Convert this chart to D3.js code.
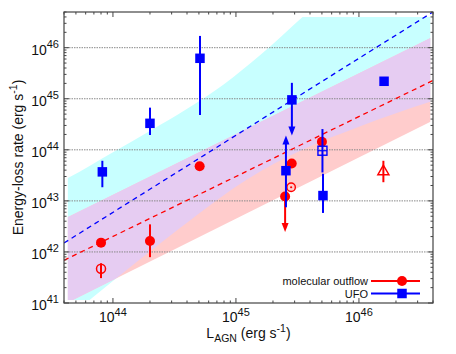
<!DOCTYPE html>
<html><head><meta charset="utf-8">
<script src="https://cdn.jsdelivr.net/npm/d3@7"></script>
<style>
body{margin:0;background:#fff}
svg{display:block}
text{font-family:"Liberation Sans",Arial,Helvetica,sans-serif;fill:#111}
</style>
</head><body>
<svg id="chart" width="456" height="354"></svg>
<script>
// ---------------- data ----------------
// UFO (filled blue squares)
const ufoL      = [8.2e43, 2.0e44, 5.1e44, 2.85e45, 2.55e45, 5.1e45, 1.6e46];
const ufoE      = [3.7e43, 3.3e44, 6.2e45, 9.5e44, 3.9e43, 1.27e43, 2.2e45];
const ufoErrLo  = [1.85e43, 1.95e44, 4.8e44, 1.9e44, 7.5e42, 5.8e42, null];
const ufoErrHi  = [6.1e43, 6.7e44, 1.7e46, 2.05e45, 1.9e44, 3.4e43, null];
const ufoArrow  = ["", "", "", "down", "up", "", ""];
// UFO (open blue square)
const ufoOpenL = [5.05e45];
const ufoOpenE = [9.6e43];
const ufoOpenLo = [3.6e43];
const ufoOpenHi = [2.55e44];
// molecular outflow (filled red circles)
const molL     = [8.0e43, 2.0e44, 5.07e44, 2.84e45, 2.51e45, 5.0e45];
const molE     = [1.52e42, 1.64e42, 4.75e43, 5.4e43, 1.22e43, 1.44e44];
const molErrLo = [null, 7.9e41, null, null, 2.45e42, null];
const molErrHi = [null, 3.47e42, null, null, null, null];
const molArrow = ["", "", "", "", "down", ""];
// molecular outflow (open red circle)
const molOpenL = [8.0e43];
const molOpenE = [4.7e41];
const molOpenLo = [3.07e41];
const molOpenHi = [6.0e41];
// molecular outflow (dotted circle)
const molDotL = [2.81e45];
const molDotE = [1.85e43];
// molecular outflow (open triangle)
const molTriL = [1.58e46];
const molTriE = [3.9e43];
const molTriLo = [2.32e43];
const molTriHi = [6.1e43];

// fitted relations (dashed lines), log10 values
const fitLogL     = [43.602, 46.602];
const ufoFitLogE  = [42.175, 46.70];
const molFitLogE  = [41.836, 45.358];

// shaded bands, log10 values
const cyanUpLogL  = [43.50, 43.634, 44.0, 44.3, 44.6, 44.9, 45.2, 45.55, 45.8, 46.2, 46.8];
const cyanUpLogE  = [43.30, 43.45, 43.95, 44.37, 44.80, 45.28, 45.86, 46.62, 47.15, 47.9, 49.0];
const cyanLoLogL  = [43.50, 43.81, 44.2, 44.545, 45.11, 45.54, 46.0, 46.58, 46.8];
const cyanLoLogE  = [40.45, 41.06, 41.82, 42.47, 43.45, 44.0, 44.45, 44.94, 45.1];
const pinkUpLogL  = [43.50, 46.80];
const pinkUpLogE  = [42.525, 46.45];
const pinkLoLogL  = [43.50, 46.80];
const pinkLoLogE  = [40.85, 44.81];
const bandClipL = [4.3e43, 3.8e46];
const bandClipE = [1.15e41, 4.0e46];

// axes
const xDomain = [4e43, 4e46];
const yDomain = [1e41, 5e46];
const xMajor = [44, 45, 46];
const yMajor = [41, 42, 43, 44, 45, 46];
const gridY  = [42, 43, 44, 45, 46];

// ---------------- drawing ----------------
const svg = d3.select("#chart");
const P = {l:64, r:433, t:12, b:303};
const x = d3.scaleLog().domain(xDomain).range([P.l, P.r]);
const y = d3.scaleLog().domain(yDomain).range([P.b, P.t]);
const p10 = v => Math.pow(10, v);
const zip = (a, b) => a.map((v, i) => [v, b[i]]);

const defs = svg.append("defs");
defs.append("clipPath").attr("id", "plotClip").append("rect")
  .attr("x", P.l).attr("y", P.t).attr("width", P.r - P.l).attr("height", P.b - P.t);
defs.append("clipPath").attr("id", "bandClip").append("rect")
  .attr("x", x(bandClipL[0])).attr("y", y(bandClipE[1]))
  .attr("width", x(bandClipL[1]) - x(bandClipL[0]))
  .attr("height", y(bandClipE[0]) - y(bandClipE[1]));

const edge = d3.line().x(d => x(p10(d[0]))).y(d => y(p10(d[1]))).curve(d3.curveMonotoneX);
function bandPath(upL, upE, loL, loE) {
  const up = edge(zip(upL, upE));
  const lo = edge(zip(loL, loE).reverse());
  return up + lo.replace(/^M/, "L") + "Z";
}
const cyanD = bandPath(cyanUpLogL, cyanUpLogE, cyanLoLogL, cyanLoLogE);
const pinkD = bandPath(pinkUpLogL, pinkUpLogE, pinkLoLogL, pinkLoLogE);
defs.append("clipPath").attr("id", "cyanClip").append("path").attr("d", cyanD);

const bands = svg.append("g").attr("clip-path", "url(#bandClip)");
bands.append("path").attr("d", cyanD).attr("fill", "#c8ffff");
bands.append("path").attr("d", pinkD).attr("fill", "#ffcccc");
bands.append("g").attr("clip-path", "url(#cyanClip)")
  .append("path").attr("d", pinkD).attr("fill", "#e6ccf2");

// grid
svg.append("g").selectAll("line").data(gridY).join("line")
  .attr("x1", P.l).attr("x2", P.r)
  .attr("y1", d => y(p10(d))).attr("y2", d => y(p10(d)))
  .attr("stroke", "#888").attr("stroke-width", 1).attr("stroke-dasharray", "1.5,1");

// fit lines
const plot = svg.append("g").attr("clip-path", "url(#plotClip)");
const fitLine = d3.line().x(d => x(p10(d[0]))).y(d => y(p10(d[1])));
plot.append("path").attr("d", fitLine(zip(fitLogL, ufoFitLogE)))
  .attr("fill", "none").attr("stroke", "#0000ff").attr("stroke-width", 1.3).attr("stroke-dasharray", "5,4");
plot.append("path").attr("d", fitLine(zip(fitLogL, molFitLogE)))
  .attr("fill", "none").attr("stroke", "#ff0000").attr("stroke-width", 1.3).attr("stroke-dasharray", "5,4");

// frame & ticks
const frame = svg.append("g");
frame.append("rect").attr("x", P.l).attr("y", P.t).attr("width", P.r - P.l).attr("height", P.b - P.t)
  .attr("fill", "none").attr("stroke", "#444").attr("stroke-width", 1.2);

const xAll = [], yAll = [];
for (let e = 43; e <= 46; e++) for (let m = 1; m <= 9; m++) {
  const v = m * p10(e); if (v >= xDomain[0] * 0.999 && v <= xDomain[1] * 1.001) xAll.push({v, major: m === 1});
}
for (let e = 41; e <= 46; e++) for (let m = 1; m <= 9; m++) {
  const v = m * p10(e); if (v >= yDomain[0] * 0.999 && v <= yDomain[1] * 1.001) yAll.push({v, major: m === 1});
}
const tk = d => d.major ? 5 : 2.5;
frame.selectAll(".xtb").data(xAll).join("line")
  .attr("x1", d => x(d.v)).attr("x2", d => x(d.v)).attr("y1", P.b).attr("y2", d => P.b - tk(d))
  .attr("stroke", "#444");
frame.selectAll(".xtt").data(xAll).join("line")
  .attr("x1", d => x(d.v)).attr("x2", d => x(d.v)).attr("y1", P.t).attr("y2", d => P.t + tk(d))
  .attr("stroke", "#444");
frame.selectAll(".ytl").data(yAll).join("line")
  .attr("y1", d => y(d.v)).attr("y2", d => y(d.v)).attr("x1", P.l).attr("x2", d => P.l + tk(d))
  .attr("stroke", "#444");
frame.selectAll(".ytr").data(yAll).join("line")
  .attr("y1", d => y(d.v)).attr("y2", d => y(d.v)).attr("x1", P.r).attr("x2", d => P.r - tk(d))
  .attr("stroke", "#444");

// tick labels
xMajor.forEach(e => {
  const t = svg.append("text").attr("x", x(p10(e))).attr("y", 322).attr("text-anchor", "middle")
    .attr("font-size", 14);
  t.append("tspan").text("10");
  t.append("tspan").attr("dy", -6).attr("font-size", 11).text(e);
});
yMajor.forEach(e => {
  const t = svg.append("text").attr("x", 59).attr("y", y(p10(e)) + 7).attr("text-anchor", "end")
    .attr("font-size", 14);
  t.append("tspan").text("10");
  t.append("tspan").attr("dy", -7).attr("font-size", 11).text(e);
});

// axis titles
const xt = svg.append("text").attr("x", (P.l + P.r) / 2).attr("y", 338).attr("text-anchor", "middle").attr("font-size", 14);
xt.append("tspan").text("L");
xt.append("tspan").attr("dy", 4).attr("font-size", 10.5).text("AGN");
xt.append("tspan").attr("dy", -4).text(" (erg s");
xt.append("tspan").attr("dy", -6).attr("font-size", 10.5).text("-1");
xt.append("tspan").attr("dy", 6).text(")");

const yt = svg.append("text").attr("transform", `translate(23,${(P.t + P.b) / 2}) rotate(-90)`)
  .attr("text-anchor", "middle").attr("font-size", 14);
yt.append("tspan").text("Energy-loss rate (erg s");
yt.append("tspan").attr("dy", -6).attr("font-size", 10.5).text("-1");
yt.append("tspan").attr("dy", 6).text(")");

// ---------------- markers ----------------
const RED = "#ff0000", BLUE = "#0000ff";
const marks = svg.append("g");
function errBar(L, lo, hi, col) {
  if (lo == null || hi == null) return;
  marks.append("line").attr("x1", x(L)).attr("x2", x(L)).attr("y1", y(lo)).attr("y2", y(hi))
    .attr("stroke", col).attr("stroke-width", 2);
}
function arrowHead(L, tipE, dir, col) {
  const cx = x(L), ty = y(tipE), h = 9, w = 3.5;
  const s = dir === "down" ? -1 : 1;
  marks.append("path").attr("d", `M${cx},${ty}L${cx - w},${ty + s * h}L${cx + w},${ty + s * h}Z`).attr("fill", col);
}
const sq = 9.5;

// molecular outflow
molL.forEach((L, i) => {
  if (molArrow[i] === "down") {
    errBar(L, molErrLo[i] * 1.25, molE[i], RED);
    arrowHead(L, molErrLo[i], "down", RED);
  } else errBar(L, molErrLo[i], molErrHi[i], RED);
});
molOpenL.forEach((L, i) => errBar(L, molOpenLo[i], molOpenHi[i], RED));
molTriL.forEach((L, i) => errBar(L, molTriLo[i], molTriHi[i], RED));
marks.selectAll(".mol").data(zip(molL, molE)).join("circle")
  .attr("cx", d => x(d[0])).attr("cy", d => y(d[1])).attr("r", 5).attr("fill", RED);
marks.selectAll(".molo").data(zip(molOpenL, molOpenE)).join("circle")
  .attr("cx", d => x(d[0])).attr("cy", d => y(d[1])).attr("r", 4.5).attr("fill", "none")
  .attr("stroke", RED).attr("stroke-width", 1.5);
zip(molDotL, molDotE).forEach(d => {
  marks.append("circle").attr("cx", x(d[0])).attr("cy", y(d[1])).attr("r", 4.2).attr("fill", "none")
    .attr("stroke", RED).attr("stroke-width", 1.4);
  marks.append("circle").attr("cx", x(d[0])).attr("cy", y(d[1])).attr("r", 1.1).attr("fill", RED);
});
zip(molTriL, molTriE).forEach(d => {
  const cx = x(d[0]), cy = y(d[1]);
  marks.append("path").attr("d", `M${cx},${cy - 5.5}L${cx - 5.5},${cy + 4}L${cx + 5.5},${cy + 4}Z`)
    .attr("fill", "none").attr("stroke", RED).attr("stroke-width", 1.5);
});

// UFO
ufoL.forEach((L, i) => {
  if (ufoArrow[i] === "down") {
    errBar(L, ufoErrLo[i] * 1.3, ufoErrHi[i], BLUE);
    arrowHead(L, ufoErrLo[i], "down", BLUE);
  } else if (ufoArrow[i] === "up") {
    errBar(L, ufoErrLo[i], ufoErrHi[i] / 1.3, BLUE);
    arrowHead(L, ufoErrHi[i], "up", BLUE);
  } else errBar(L, ufoErrLo[i], ufoErrHi[i], BLUE);
});
ufoOpenL.forEach((L, i) => errBar(L, ufoOpenLo[i], ufoOpenHi[i], BLUE));
marks.selectAll(".ufo").data(zip(ufoL, ufoE)).join("rect")
  .attr("x", d => x(d[0]) - sq / 2).attr("y", d => y(d[1]) - sq / 2).attr("width", sq).attr("height", sq)
  .attr("fill", BLUE);
zip(ufoOpenL, ufoOpenE).forEach(d => {
  const cx = x(d[0]), cy = y(d[1]);
  marks.append("rect").attr("x", cx - 4.5).attr("y", cy - 4.5).attr("width", 9).attr("height", 9)
    .attr("fill", "none").attr("stroke", BLUE).attr("stroke-width", 1.4);
  marks.append("line").attr("x1", cx - 4.5).attr("x2", cx + 4.5).attr("y1", cy).attr("y2", cy)
    .attr("stroke", BLUE).attr("stroke-width", 1.2);
});

// ---------------- legend ----------------
const legend = svg.append("g").attr("font-size", 11);
const legItems = [{label: "molecular outflow", col: RED, shape: "circle", yy: 281},
                  {label: "UFO", col: BLUE, shape: "square", yy: 293.5}];
legItems.forEach(it => {
  legend.append("text").attr("x", 368).attr("y", it.yy + 4).attr("text-anchor", "end").text(it.label);
  legend.append("line").attr("x1", 371).attr("x2", 420).attr("y1", it.yy).attr("y2", it.yy)
    .attr("stroke", it.col).attr("stroke-width", 1.8);
  if (it.shape === "circle") legend.append("circle").attr("cx", 402).attr("cy", it.yy).attr("r", 5).attr("fill", it.col);
  else legend.append("rect").attr("x", 402 - sq / 2).attr("y", it.yy - sq / 2).attr("width", sq).attr("height", sq).attr("fill", it.col);
});
</script>
</body></html>
